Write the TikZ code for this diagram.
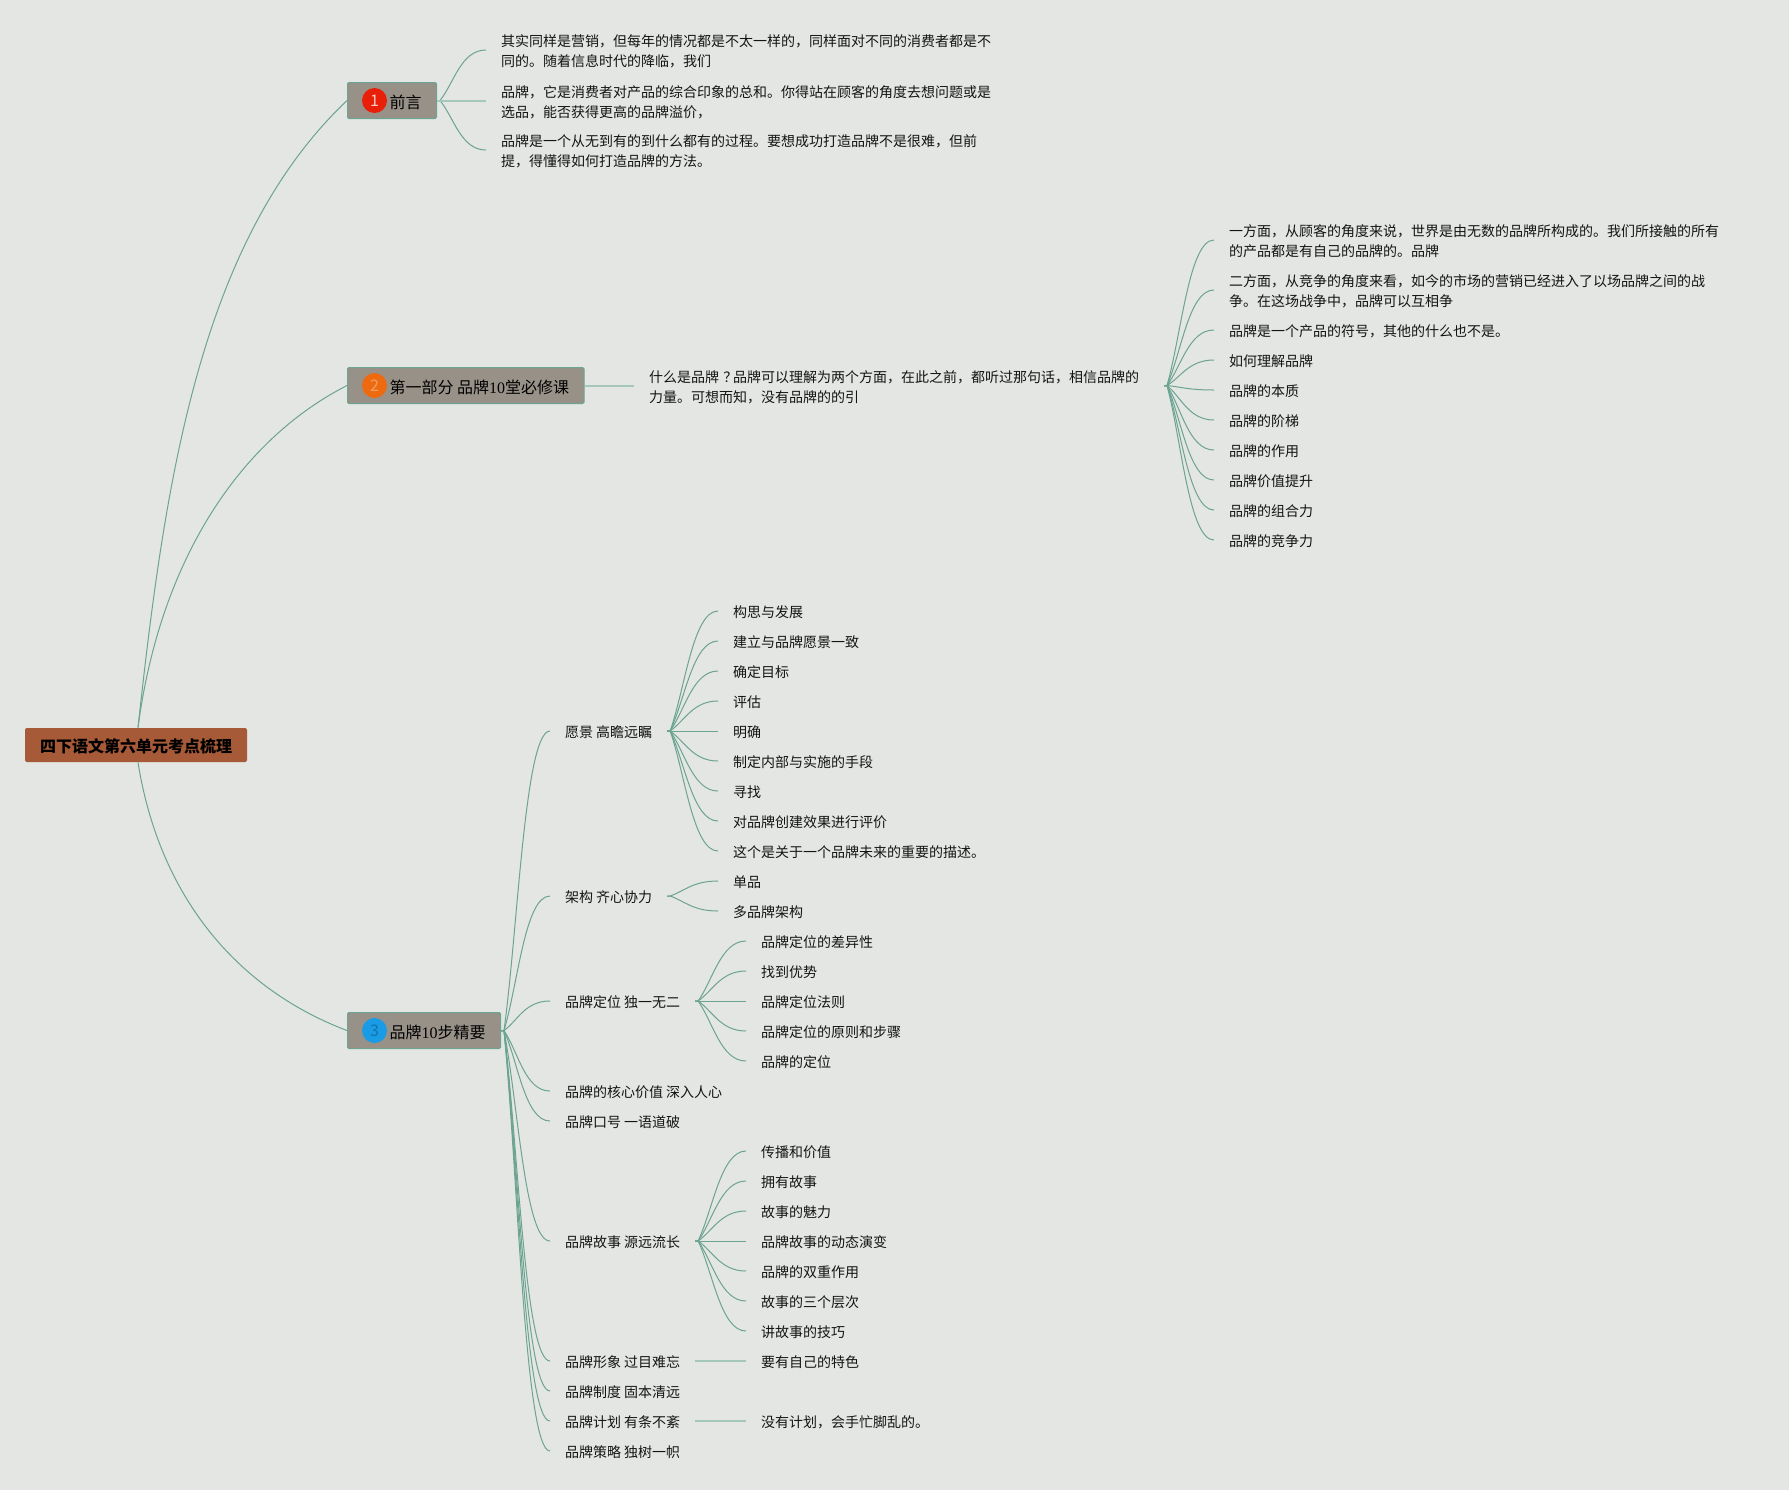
\documentclass[tikz,border=0pt]{standalone}
\usepackage{fontspec}
\setmainfont{Noto Sans CJK SC}
\newfontfamily\digitfont{Liberation Serif}
\usetikzlibrary{calc}
\definecolor{mapBg}{RGB}{227,230,227}
\definecolor{mapLine}{RGB}{108,163,146}
\definecolor{mapPale}{RGB}{165,199,188}
\definecolor{mapBox}{RGB}{152,145,136}
\definecolor{mapRoot}{RGB}{166,90,56}
\definecolor{mapRed}{RGB}{232,32,10}
\definecolor{mapOrange}{RGB}{238,106,16}
\definecolor{mapBlue}{RGB}{26,155,230}
\tikzset{
  link/.style={mapLine,line width=0.5pt},
  linkflat/.style={mapPale,line width=1pt},
  leaf/.style={anchor=west,inner xsep=7.3pt,inner ysep=0pt,text=black!92,font=\fontsize{7}{10}\selectfont,align=left,execute at begin node={\rule{0pt}{7.4pt}}},
  wide/.style={leaf,text width=250pt},
  topic/.style={anchor=west,draw=mapLine,fill=mapBox,line width=0.5pt,rounded corners=0.7pt,minimum height=18pt,inner ysep=0pt,inner xsep=7.5pt,text=black,font=\fontsize{8}{10}\selectfont,execute at begin node={\rule{0pt}{8.2pt}}},
  bubble/.style={circle,minimum size=12.5pt,inner sep=0pt,font=\fontsize{8}{10}\selectfont}
}
\newcommand{\branch}[2]{\draw[link] (#1) -- ++(3,0) .. controls ($(#1)!.35!(#2)$) and ($(#2)+(-25,0)$) .. (#2);}
\newcommand{\toprow}{\rule{0pt}{7.5pt}}
\begin{document}
\begin{tikzpicture}[x=0.5pt,y=-0.5pt]
\fill[mapBg] (0,0) rectangle (1789,1490);
\useasboundingbox (0,0) rectangle (1789,1490);
% root and the three parts
\node[anchor=center,fill=mapRoot,rounded corners=1pt,minimum width=111pt,minimum height=17pt,inner sep=0pt,text=black,font=\fontsize{8}{10}\selectfont\bfseries] (root) at (136,745) {\rule{0pt}{8pt}四下语文第六单元考点梳理};
\node[topic] (t1) at (347,100.5) {\hspace*{13.5pt}前言};
\node[topic] (t2) at (347,385.5) {\hspace*{13.5pt}第一部分 品牌{\digitfont 10}堂必修课};
\node[topic] (t3) at (347,1030.5) {\hspace*{13.5pt}品牌{\digitfont 10}步精要};
\node[bubble,fill=mapRed,text=white!75!mapRed] (b1) at (374.5,100.5) {1};
\node[bubble,fill=mapOrange,text=white!35!mapOrange] (b2) at (374.5,385.5) {2};
\node[bubble,fill=mapBlue,text=black!25!mapBlue] (b3) at (374.5,1030.5) {3};
\draw[link] ([xshift=1pt]root.north) .. controls (165,480) and (200,240) .. (t1.west);
\draw[link] ([xshift=1pt]root.north) .. controls (160,560) and (240,440) .. (t2.west);
\draw[link] ([xshift=1pt]root.south) .. controls (160,900) and (240,990) .. (t3.west);
% part 1
\node[leaf] (p1) at (486,50) {\toprow 其实同样是营销，但每年的情况都是不太一样的，同样面对不同的消费者都是不\\同的。随着信息时代的降临，我们};
\node[leaf] (p2) at (486,100.5) {\toprow 品牌，它是消费者对产品的综合印象的总和。你得站在顾客的角度去想问题或是\\选品，能否获得更高的品牌溢价，};
\node[leaf] (p3) at (486,150) {\toprow 品牌是一个从无到有的到什么都有的过程。要想成功打造品牌不是很难，但前\\提，得懂得如何打造品牌的方法。};
\branch{t1.east}{p1.west}
\branch{t1.east}{p3.west}
\draw[linkflat] (t1.east) -- (p2.west);
% part 2
\node[wide] (q0) at (634,385.5) {什么是品牌\kern2.2pt？\kern-2.2pt 品牌可以理解为两个方面，在此之前，都听过那句话，相信品牌的\\力量。可想而知，没有品牌的的引};
\draw[linkflat] (t2.east) -- (q0.west);
\node[leaf] (q1) at (1214,240) {\toprow 一方面，从顾客的角度来说，世界是由无数的品牌所构成的。我们所接触的所有\\的产品都是有自己的品牌的。品牌};
\node[leaf] (q2) at (1214,290) {\toprow 二方面，从竞争的角度来看，如今的市场的营销已经进入了以场品牌之间的战\\争。在这场战争中，品牌可以互相争};
\branch{q0.east}{q1.west}
\branch{q0.east}{q2.west}
\foreach \nm/\yy/\txt in {q3/330/品牌是一个产品的符号，其他的什么也不是。,q4/360/如何理解品牌,q5/390/品牌的本质,q6/420/品牌的阶梯,q7/450/品牌的作用,q8/480/品牌价值提升,q9/510/品牌的组合力,q10/540/品牌的竞争力} {
  \node[leaf] (\nm) at (1214,\yy) {\txt};
  \branch{q0.east}{\nm.west}
}
% part 3
\foreach \nm/\yy/\txt in {g1/731/愿景 高瞻远瞩,g2/896/架构 齐心协力,g3/1001/品牌定位 独一无二,g4/1091/品牌的核心价值 深入人心,g5/1121/品牌口号 一语道破,g6/1241/品牌故事 源远流长,g7/1361/品牌形象 过目难忘,g8/1391/品牌制度 固本清远,g9/1421/品牌计划 有条不紊,g10/1451/品牌策略 独树一帜} {
  \node[leaf] (\nm) at (550,\yy) {\txt};
  \branch{t3.east}{\nm.west}
}
\foreach \nm/\yy/\txt in {a1/611/构思与发展,a2/641/建立与品牌愿景一致,a3/671/确定目标,a4/701/评估,a5/731/明确,a6/761/制定内部与实施的手段,a7/791/寻找,a8/821/对品牌创建效果进行评价,a9/851/这个是关于一个品牌未来的重要的描述。} {
  \node[leaf] (\nm) at (718,\yy) {\txt};
  \branch{g1.east}{\nm.west}
}
\foreach \nm/\yy/\txt in {c1/881/单品,c2/911/多品牌架构} {
  \node[leaf] (\nm) at (718,\yy) {\txt};
  \branch{g2.east}{\nm.west}
}
\foreach \nm/\yy/\txt in {d1/941/品牌定位的差异性,d2/971/找到优势,d3/1001/品牌定位法则,d4/1031/品牌定位的原则和步骤,d5/1061/品牌的定位} {
  \node[leaf] (\nm) at (746,\yy) {\txt};
  \branch{g3.east}{\nm.west}
}
\foreach \nm/\yy/\txt in {e1/1151/传播和价值,e2/1181/拥有故事,e3/1211/故事的魅力,e4/1241/品牌故事的动态演变,e5/1271/品牌的双重作用,e6/1301/故事的三个层次,e7/1331/讲故事的技巧} {
  \node[leaf] (\nm) at (746,\yy) {\txt};
  \branch{g6.east}{\nm.west}
}
\node[leaf] (f1) at (746,1361) {要有自己的特色};
\node[leaf] (f2) at (746,1421) {没有计划，会手忙脚乱的。};
\draw[linkflat] (g7.east) -- (f1.west);
\draw[linkflat] (g9.east) -- (f2.west);
\end{tikzpicture}
\end{document}
